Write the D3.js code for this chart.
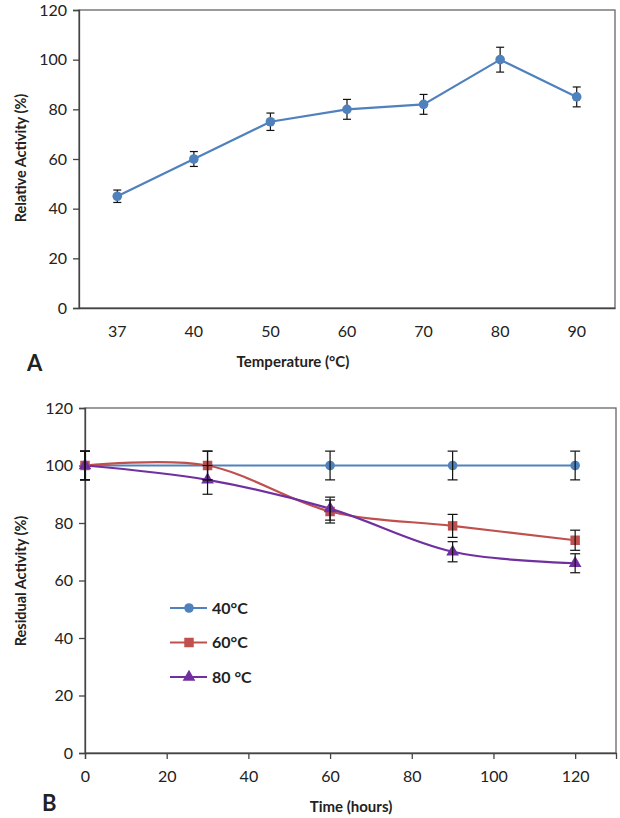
<!DOCTYPE html>
<html><head><meta charset="utf-8">
<script src="https://cdn.jsdelivr.net/npm/d3@7"></script>
<style>
body{margin:0;background:#fff;}
svg text{font-family:Lato,"Open Sans",sans-serif;fill:#222;}
</style></head>
<body><svg id="c" width="620" height="818"></svg>
<script>
// Panel A data
const tempCategories = ["37","40","50","60","70","80","90"];
const relActivity = [45, 60, 75, 80, 82, 100, 85];
const relError = [2.5, 3, 3.5, 4, 4, 5, 4];
const yTicksA = [0, 20, 40, 60, 80, 100, 120];

// Panel B data
const timeHours = [0, 30, 60, 90, 120];
const seriesNames = ["40°C", "60°C", "80 °C"];
const res40 = [100, 100, 100, 100, 100];
const res60 = [100, 100, 84, 79, 74];
const res80 = [100, 95, 85, 70, 66];
const err40 = [5, 5, 5, 5, 5];
const err60 = [5, 5, 4, 4, 3.5];
const err80 = [5, 5, 4, 3.5, 3.3];
const xTicksB = [0, 20, 40, 60, 80, 100, 120];
const yTicksB = [0, 20, 40, 60, 80, 100, 120];

const svg = d3.select("#c");
const blue = "#4F81BD", red = "#C0504D", purple = "#7030A0";
const axisCol = "#444";

// ---------- Panel A ----------
const A = {l:79, r:615, t:10, b:308};
const xA = d3.scaleBand().domain(tempCategories).range([A.l, A.r]);
const yA = d3.scaleLinear().domain([0,120]).range([A.b, A.t]);
const gA = svg.append("g");
gA.append("rect").attr("x",A.l).attr("y",A.t).attr("width",A.r-A.l).attr("height",A.b-A.t)
  .attr("fill","none").attr("stroke","#666").attr("stroke-width",1.3);
const yAxA = gA.append("g").attr("transform",`translate(${A.l},0)`)
  .call(d3.axisLeft(yA).tickValues(yTicksA).tickSize(6).tickPadding(6));
const xAxA = gA.append("g").attr("transform",`translate(0,${A.b})`)
  .call(d3.axisBottom(xA).tickSize(0).tickPadding(18));
[yAxA,xAxA].forEach(g=>{
  g.selectAll("path,line").attr("stroke",axisCol).attr("stroke-width",1.3);
  g.selectAll("text").attr("font-size",16).attr("fill","#333").style("font-family","Lato");
});
const cx = d => xA(d) + xA.bandwidth()/2;
const dataA = tempCategories.map((c,i)=>({c, v:relActivity[i], e:relError[i]}));
gA.append("path").datum(dataA)
  .attr("d", d3.line().x(d=>cx(d.c)).y(d=>yA(d.v)))
  .attr("fill","none").attr("stroke",blue).attr("stroke-width",2.2);
const ebA = gA.append("g").attr("stroke","#111").attr("stroke-width",1.2);
dataA.forEach(d=>{
  const x = cx(d.c);
  ebA.append("line").attr("x1",x).attr("x2",x).attr("y1",yA(d.v+d.e)).attr("y2",yA(d.v-d.e));
  [d.v+d.e, d.v-d.e].forEach(v=>ebA.append("line").attr("x1",x-4).attr("x2",x+4).attr("y1",yA(v)).attr("y2",yA(v)));
});
gA.selectAll("circle.m").data(dataA).join("circle")
  .attr("cx",d=>cx(d.c)).attr("cy",d=>yA(d.v)).attr("r",4.8).attr("fill",blue);
gA.append("text").attr("x",293).attr("y",367).attr("text-anchor","middle")
  .attr("font-size",15).attr("font-weight","bold").text("Temperature (°C)");
gA.append("text").attr("transform","translate(26,158) rotate(-90)").attr("text-anchor","middle")
  .attr("font-size",14.5).attr("font-weight","bold").text("Relative Activity (%)");
gA.append("text").attr("x",27).attr("y",371).attr("font-size",22).attr("font-weight","bold").text("A");

// ---------- Panel B ----------
const B = {l:85, r:616, t:408, b:753};
const xB = d3.scaleLinear().domain([0,130]).range([B.l, B.r]);
const yB = d3.scaleLinear().domain([0,120]).range([B.b, B.t]);
const gB = svg.append("g");
gB.append("rect").attr("x",B.l).attr("y",B.t).attr("width",B.r-B.l).attr("height",B.b-B.t)
  .attr("fill","none").attr("stroke","#666").attr("stroke-width",1.3);
const yAxB = gB.append("g").attr("transform",`translate(${B.l},0)`)
  .call(d3.axisLeft(yB).tickValues(yTicksB).tickSize(6).tickPadding(6));
const xAxB = gB.append("g").attr("transform",`translate(0,${B.b})`)
  .call(d3.axisBottom(xB).tickValues(xTicksB).tickSize(6).tickPadding(12));
[yAxB,xAxB].forEach(g=>{
  g.selectAll("path,line").attr("stroke",axisCol).attr("stroke-width",1.3);
  g.selectAll("text").attr("font-size",16).attr("fill","#333").style("font-family","Lato");
});
const series = [
  {name:seriesNames[0], vals:res40, errs:err40, color:blue, shape:"circle"},
  {name:seriesNames[1], vals:res60, errs:err60, color:red, shape:"square"},
  {name:seriesNames[2], vals:res80, errs:err80, color:purple, shape:"triangle"}
];
const lineB = d3.line().x(d=>xB(d.t)).y(d=>yB(d.v)).curve(d3.curveCardinal.tension(0));
series.forEach(s=>{
  s.pts = timeHours.map((t,i)=>({t, v:s.vals[i], e:s.errs[i]}));
  gB.append("path").datum(s.pts).attr("d",lineB)
    .attr("fill","none").attr("stroke",s.color).attr("stroke-width",2.2);
});
const symFor = shape => shape==="circle" ? d3.symbol(d3.symbolCircle, 72)
  : shape==="square" ? d3.symbol(d3.symbolSquare, 90) : d3.symbol(d3.symbolTriangle, 70);
series.forEach(s=>{
  gB.selectAll(null).data(s.pts).join("path")
    .attr("transform",d=>`translate(${xB(d.t)},${yB(d.v)})`)
    .attr("d",symFor(s.shape)()).attr("fill",s.color);
});
const ebB = gB.append("g").attr("stroke","#111").attr("stroke-width",1.2);
series.forEach(s=>{
  s.pts.forEach(d=>{
    const x = xB(d.t);
    ebB.append("line").attr("x1",x).attr("x2",x).attr("y1",yB(d.v+d.e)).attr("y2",yB(d.v-d.e));
    [d.v+d.e, d.v-d.e].forEach(v=>ebB.append("line").attr("x1",x-5).attr("x2",x+5).attr("y1",yB(v)).attr("y2",yB(v)));
  });
});
// legend
const leg = gB.append("g");
series.forEach((s,i)=>{
  const y = 608 + i*34.5;
  leg.append("line").attr("x1",170).attr("x2",207).attr("y1",y).attr("y2",y).attr("stroke",s.color).attr("stroke-width",2.2);
  leg.append("path").attr("transform",`translate(189,${y})`).attr("d",symFor(s.shape)()).attr("fill",s.color);
  leg.append("text").attr("x",212).attr("y",y).attr("dy","0.35em")
    .attr("font-size",16).attr("font-weight","bold").text(s.name);
});
gB.append("text").attr("x",351).attr("y",812).attr("text-anchor","middle")
  .attr("font-size",15).attr("font-weight","bold").text("Time (hours)");
gB.append("text").attr("transform","translate(26,581) rotate(-90)").attr("text-anchor","middle")
  .attr("font-size",14.5).attr("font-weight","bold").text("Residual Activity (%)");
gB.append("text").attr("x",42).attr("y",811).attr("font-size",22).attr("font-weight","bold").text("B");
</script></body></html>
